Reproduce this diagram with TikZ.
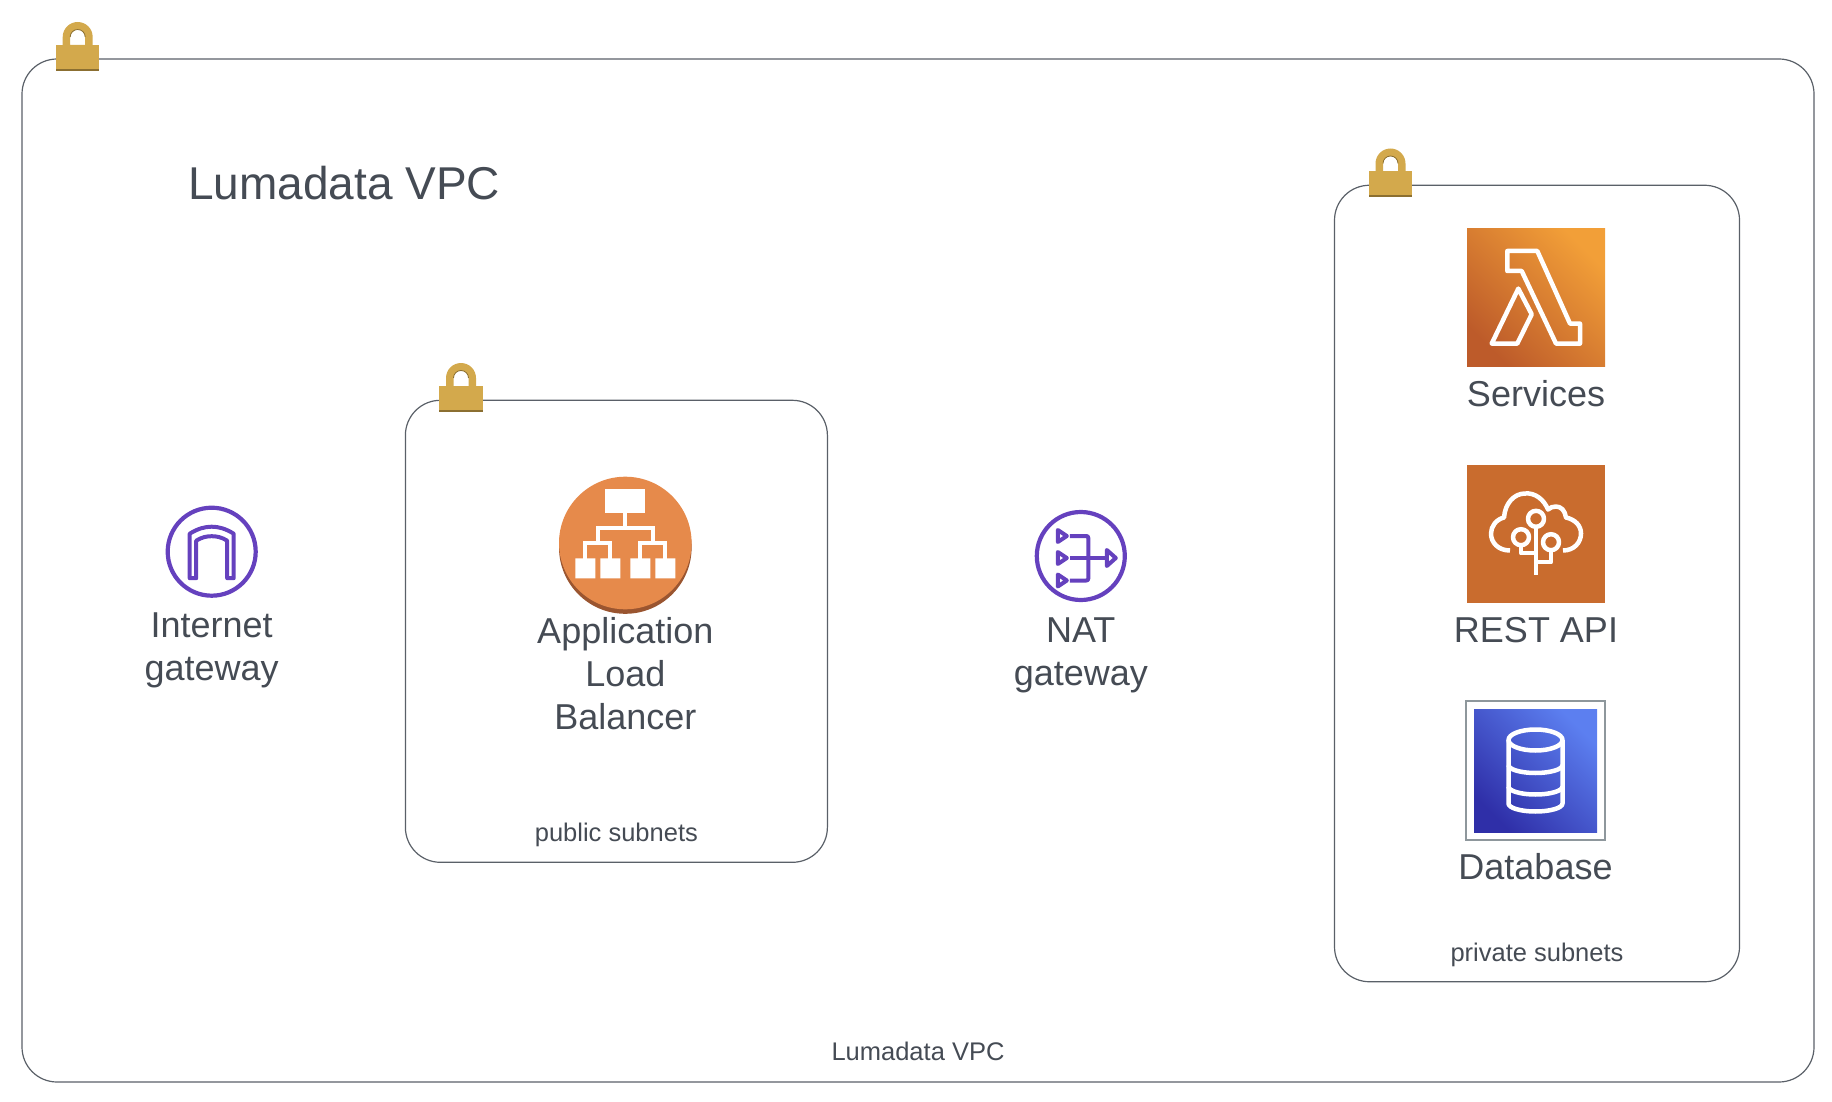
\documentclass[tikz,border=0pt]{standalone}
\usepackage{fontspec}
\setmainfont{Liberation Sans}
\usetikzlibrary{positioning}
\definecolor{boxline}{HTML}{5A6068}
\definecolor{labeltext}{HTML}{454B54}
\definecolor{lockgold}{HTML}{D3A94C}
\definecolor{lockdark}{HTML}{8B6F31}
\definecolor{gwpurple}{HTML}{6541BE}
\definecolor{albfill}{HTML}{E68A4B}
\definecolor{albdark}{HTML}{9A5530}
\definecolor{apifill}{HTML}{C96C2E}
\definecolor{lambdalow}{HTML}{BD5B2A}
\definecolor{lambdahigh}{HTML}{F29F38}
\definecolor{dblow}{HTML}{2F2FA8}
\definecolor{dbhigh}{HTML}{5C7FF0}
\definecolor{framegray}{HTML}{8E979C}
\tikzset{lock/.pic={
  \fill[lockgold,even odd rule] (-15,-26) -- (-15,-34) arc (180:0:15pt) -- (15,-26) -- cycle
    (-7.5,-26) -- (-7.5,-34) arc (180:0:7.5pt) -- (7.5,-26) -- cycle;
  \draw[lockdark,line width=0.8pt] (-7.5,-34) arc (180:0:7.5pt);
  \fill[lockgold] (-21.7,-26) rectangle (21.7,0);
  \fill[lockdark] (-21.7,-2) rectangle (21.7,0);
}}
\begin{document}
\begin{tikzpicture}[x=1pt,y=-1pt,
  subnet/.style = {draw=boxline, line width=1.2pt, rounded corners=35pt, inner sep=0pt},
  gwicon/.style = {draw=gwpurple, circle, line width=4.2pt, minimum size=88pt, inner sep=0pt},
  square/.style = {rectangle, inner sep=0pt, minimum size=138pt},
  iconlabel/.style = {font=\fontsize{36}{43}\selectfont, text=labeltext, align=center, inner sep=0pt},
  boxlabel/.style = {font=\fontsize{25.5}{30}\selectfont, text=labeltext, inner sep=0pt, anchor=base},
  whiteline/.style = {draw=white, line width=4.5pt, line join=round},
  purpleline/.style = {draw=gwpurple, line width=4pt, line join=round}]
\useasboundingbox (0,0) rectangle (1832,1102);

\node[subnet, minimum width=1792pt, minimum height=1023pt] (vpc) at (918,570.5) {};
\node[subnet, minimum width=422pt, minimum height=462pt] (public) at (616.4,631.3) {};
\node[subnet, minimum width=405pt, minimum height=796.5pt] (private) at (1537,583.5) {};
\pic (vpclock) at (77.7,71) {lock};
\pic (publiclock) at (461,412) {lock};
\pic (privatelock) at (1390.5,197.5) {lock};

\node[iconlabel, font=\fontsize{46}{50}\selectfont] (title) at (344,183) {Lumadata VPC};
\node[boxlabel] (vpccap) at ([yshift=22pt]vpc.south) {Lumadata VPC};
\node[boxlabel] (publiccap) at ([yshift=21.5pt]public.south) {public subnets};
\node[boxlabel] (privatecap) at ([yshift=21pt]private.south) {private subnets};

% internet gateway
\node[gwicon] (igw) at (211.7,551.7) {};
\node[iconlabel] (igwlabel) [below=15pt of igw] {Internet\\gateway};
\begin{scope}[shift={(igw)}]
\draw[purpleline] (-22,26.5) -- (-22,-18) .. controls (-14,-23) and (-7,-25) .. (0,-25)
  .. controls (7,-25) and (14,-23) .. (22,-18) -- (22,26.5) -- (15.5,26.5) -- (15.5,-11)
  .. controls (10,-14.5) and (5,-15.5) .. (0,-15.5) .. controls (-5,-15.5) and (-10,-14.5) .. (-15.5,-11)
  -- (-15.5,26.5) -- cycle;
\end{scope}

% load balancer
\fill[albdark] (625.3,547.5) circle[radius=66.3pt];
\node[circle, fill=albfill, minimum size=132.6pt, inner sep=0pt] (alb) at (625.3,543) {};
\node[iconlabel] (alblabel) [below=7.7pt of alb] {Application\\Load\\Balancer};
\begin{scope}[shift={(alb)}]
\fill[white] (-20,-54) rectangle (20,-30);
\fill[white] (-50,15.3) rectangle (-30,35.3) (-25,15.3) rectangle (-5,35.3)
  (5,15.3) rectangle (25,35.3) (30,15.3) rectangle (50,35.3);
\draw[white,line width=4pt] (0,-30) -- (0,-15);
\draw[white,line width=4pt] (-27.5,1) -- (-27.5,-15) -- (27.5,-15) -- (27.5,1);
\draw[white,line width=4pt] (-40,16) -- (-40,0) -- (-15,0) -- (-15,16);
\draw[white,line width=4pt] (15,16) -- (15,0) -- (40,0) -- (40,16);
\end{scope}

% nat gateway
\node[gwicon] (nat) at (1080.8,556) {};
\node[iconlabel] (natlabel) [below=15pt of nat] {NAT\\gateway};
\begin{scope}[shift={(nat)}]
\draw[purpleline] (-23,-26) -- (-14,-20) -- (-23,-14) -- cycle;
\draw[purpleline] (-23,-4) -- (-14,2) -- (-23,8) -- cycle;
\draw[purpleline] (-23,18.5) -- (-14,24.5) -- (-23,30.5) -- cycle;
\draw[purpleline, rounded corners=2pt] (-11,-20) -- (7.5,-20) -- (7.5,24.5) -- (-11,24.5);
\draw[purpleline] (-11,2) -- (26,2);
\draw[purpleline] (26,-6) -- (35,2) -- (26,10) -- cycle;
\end{scope}

% services
\node[square, shade, bottom color=lambdalow, top color=lambdahigh, shading angle=-45] (lambda) at (1536,297.3) {};
\node[iconlabel] (lambdalabel) [below=13.5pt of lambda] {Services};
\begin{scope}[shift={(lambda)}]
\draw[whiteline] (-28.7,-46.3) -- (1.3,-46.3) -- (34,26.3) -- (44,26.3) -- (44,46.3) -- (20,46.3)
  -- (-14.3,-26.3) -- (-28.7,-26.3) -- cycle;
\draw[whiteline] (-17.7,-8.7) -- (-4.3,17) -- (-18.7,46.3) -- (-44.3,46.3) -- cycle;
\end{scope}

% rest api
\node[square, fill=apifill] (api) at (1536,533.5) {};
\node[iconlabel] (apilabel) [below=14pt of api] {REST API};
\begin{scope}[shift={(api)}]
\draw[whiteline] (27,17) .. controls (38,17) and (45,9) .. (45,0) .. controls (45,-8) and (39,-14) .. (30,-16)
  .. controls (29,-23) and (25,-27) .. (20,-27) .. controls (17,-27) and (14,-26) .. (12,-24)
  .. controls (8,-34) and (-1,-41) .. (-11,-40) .. controls (-22,-40) and (-31,-30) .. (-32,-16)
  .. controls (-40,-14) and (-45,-7) .. (-45,0) .. controls (-45,9) and (-38,17) .. (-26,17);
\draw[whiteline] (0,-14.7) circle[radius=8pt] (-15,3.7) circle[radius=8pt] (15,8.7) circle[radius=8pt];
\draw[whiteline] (0,-7) -- (0,41);
\draw[whiteline] (-15,12) -- (-15,19.7) -- (0,19.7);
\draw[whiteline] (15,17) -- (15,28.7) -- (0,28.7);
\end{scope}

% database
\node[square, draw=framegray, line width=2.5pt, minimum size=139pt] (dbframe) at (1535.5,770.7) {};
\node[square, minimum size=123pt, shade, bottom color=dblow, top color=dbhigh, shading angle=-45] (db) at (1535.5,770.5) {};
\node[iconlabel] (dblabel) [below=12pt of dbframe] {Database};
\begin{scope}[shift={(db)}]
\draw[whiteline] (0,-30.5) ellipse[x radius=27pt, y radius=10.5pt];
\draw[whiteline] (-27,-30.5) -- (-27,33) arc (180:360:27pt and 8pt) -- (27,-30.5);
\draw[whiteline] (-27,-5.5) arc (180:360:27pt and 8pt);
\draw[whiteline] (-27,16) arc (180:360:27pt and 8pt);
\end{scope}

\end{tikzpicture}
\end{document}
